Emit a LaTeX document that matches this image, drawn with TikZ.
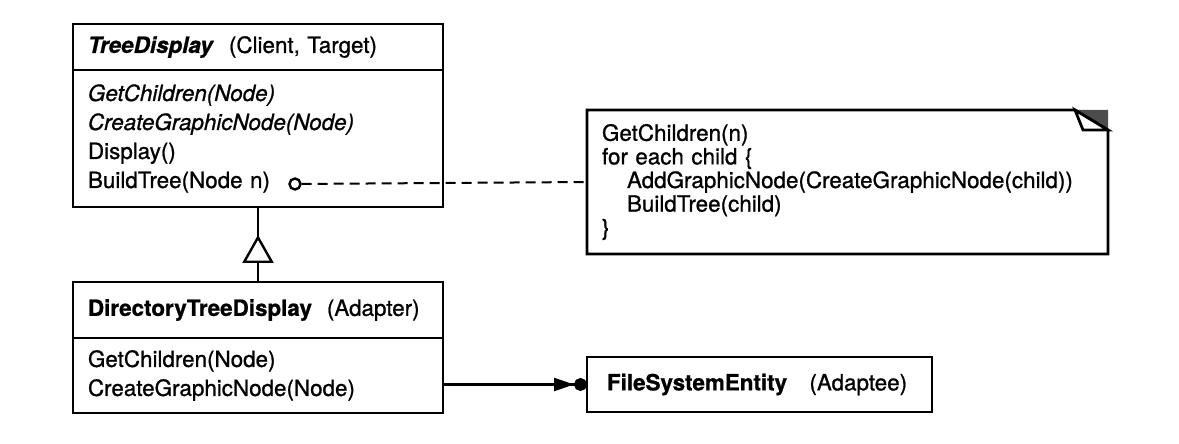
\documentclass[tikz,border=0pt]{standalone}
\usepackage{fontspec}
\setmainfont{TeX Gyre Heros}[UprightFeatures={FakeBold=0.9},ItalicFeatures={FakeBold=0.9},BoldFeatures={FakeBold=0.9},BoldItalicFeatures={FakeBold=0.9}]
\usetikzlibrary{calc}
\usetikzlibrary{positioning}
\usetikzlibrary{arrows.meta}
\usetikzlibrary{decorations.markings}
\tikzstyle{classhead} = [draw, rectangle, line width=1.4pt, outer sep=0pt, inner xsep=7.5pt, inner ysep=2pt, align=left, text width=170pt, font=\fontsize{11.2}{14.5}\selectfont]
\tikzstyle{classops} = [draw, rectangle, line width=1.4pt, outer sep=0pt, inner xsep=7.5pt, inner ysep=2pt, align=left, text width=170pt, font=\fontsize{11.2}{14.5}\selectfont]
\tikzstyle{notetext} = [rectangle, outer sep=0pt, inner xsep=7.5pt, inner ysep=2pt, align=left, text width=245.5pt, minimum height=72pt, font=\fontsize{11.2}{11.8}\selectfont]

\begin{document}
\begin{tikzpicture}[x=0.5pt,y=-0.5pt]
    \useasboundingbox (0,0) rectangle (1179,444);

    % target class
    \node[classhead, minimum height=23pt, anchor=north west](tdhead) at (73,24) {\textbf{\textit{TreeDisplay}}\ \ (Client, Target)};
    \node[classops, minimum height=68.5pt, below=0pt of tdhead](tdops) {\textit{GetChildren(Node)}\\\textit{CreateGraphicNode(Node)}\\Display()\\BuildTree(Node n)};

    % adapter class
    \node[classhead, minimum height=28pt, below=37.5pt of tdops](dtdhead) {\textbf{DirectoryTreeDisplay}\ \ (Adapter)};
    \node[classops, minimum height=37.5pt, below=0pt of dtdhead](dtdops) {GetChildren(Node)\\CreateGraphicNode(Node)};

    % adaptee
    \node[classhead, text width=152.5pt, inner xsep=10pt, minimum height=27.5pt, anchor=west](fse) at (587,384.5) {\textbf{FileSystemEntity}\ \ \ (Adaptee)};

    % note
    \node[notetext, anchor=north west](note) at (587,110) {GetChildren(n)\\for each child \{\\\hspace*{12.5pt}AddGraphicNode(CreateGraphicNode(child))\\\hspace*{12.5pt}BuildTree(child)\\\}};
    \fill[black!70] ($(note.north east)+(-33,0)$) -- (note.north east) -- ($(note.north east)+(0,20)$) -- cycle;
    \draw[line width=1.4pt] (note.north west) -- ($(note.north east)+(-33,0)$) -- ($(note.north east)+(0,20)$) -- (note.south east) -- (note.south west) -- cycle;
    \draw[line width=1.4pt, fill=white] ($(note.north east)+(-33,0)$) -- ($(note.north east)+(-25,20)$) -- ($(note.north east)+(0,20)$) -- cycle;

    \node[draw, circle, inner sep=0pt, minimum size=5.5pt, line width=1.2pt](hook) at (295,184) {};
    \draw[line width=1pt, dash pattern=on 5pt off 3pt](hook) -- (note.west);

    \draw[line width=1.2pt, postaction={decorate}, decoration={markings, mark=at position 0.627 with {\arrow{Triangle[fill=white, length=14pt, width=15.5pt, line width=1.2pt]}}}](dtdhead.north) -- (tdops.south);
    \draw[line width=1.2pt, -{Triangle[length=10pt, width=6.5pt] Circle[length=6.5pt]}](fse.west -| dtdops.east) -- (fse.west);
\end{tikzpicture}
\end{document}
